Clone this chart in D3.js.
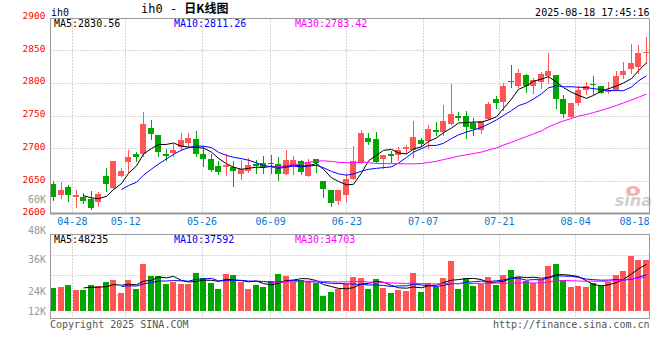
<!DOCTYPE html>
<html>
<head>
<meta charset="utf-8">
<script src="https://cdn.jsdelivr.net/npm/d3@7/dist/d3.min.js"></script>
<style>
  body { margin: 0; background: #fff; }
  svg { display: block; }
  text { font-family: "DejaVu Sans Mono", monospace; font-size: 10px; }
</style>
</head>
<body>
<svg id="chart" width="660" height="360"></svg>
<script>
'use strict';

// trading days, 2025-04-23 .. 2025-08-18
const dates = [
  '04-23', '04-24', '04-25', '04-28', '04-29', '04-30',
  '05-06', '05-07', '05-08', '05-09', '05-12', '05-13', '05-14', '05-15', '05-16',
  '05-19', '05-20', '05-21', '05-22', '05-23', '05-26', '05-27', '05-28', '05-29', '05-30',
  '06-03', '06-04', '06-05', '06-06', '06-09', '06-10', '06-11', '06-12', '06-13',
  '06-16', '06-17', '06-18', '06-19', '06-20', '06-23', '06-24', '06-25', '06-26', '06-27', '06-30',
  '07-01', '07-02', '07-03', '07-04', '07-07', '07-08', '07-09', '07-10', '07-11',
  '07-14', '07-15', '07-16', '07-17', '07-18', '07-21', '07-22', '07-23', '07-24', '07-25',
  '07-28', '07-29', '07-30', '07-31', '08-01', '08-04', '08-05', '08-06', '08-07', '08-08',
  '08-11', '08-12', '08-13', '08-14', '08-15', '08-18'
];

const open = [
  2645, 2629, 2641, 2625, 2626, 2622, 2618, 2658, 2640, 2658,
  2679, 2691, 2691, 2731, 2720, 2691, 2693, 2702, 2708, 2714,
  2691, 2684, 2673, 2672, 2672, 2661, 2666, 2676, 2677, 2677,
  2676, 2661, 2674, 2680, 2657, 2683, 2650, 2636, 2619, 2628,
  2653, 2677, 2716, 2714, 2683, 2691, 2690, 2699, 2698, 2713,
  2711, 2728, 2725, 2737, 2750, 2750, 2738, 2728, 2745, 2775,
  2771, 2803, 2796, 2812, 2795, 2801, 2811, 2812, 2775, 2748,
  2770, 2789, 2799, 2795, 2787, 2790, 2812, 2821, 2825, 2847
];
const high = [
  2650, 2649, 2644, 2636, 2631, 2635, 2633, 2670, 2681, 2670,
  2697, 2694, 2755, 2743, 2720, 2699, 2706, 2724, 2724, 2727,
  2704, 2692, 2680, 2692, 2680, 2682, 2685, 2682, 2689, 2690,
  2687, 2697, 2689, 2682, 2684, 2683, 2650, 2636, 2636, 2662,
  2704, 2728, 2724, 2725, 2690, 2696, 2702, 2705, 2742, 2716,
  2735, 2740, 2767, 2799, 2756, 2757, 2746, 2742, 2771, 2780,
  2800, 2827, 2822, 2814, 2808, 2817, 2846, 2812, 2781, 2770,
  2795, 2802, 2810, 2795, 2802, 2819, 2832, 2860, 2858, 2870
];
const low = [
  2621, 2624, 2620, 2611, 2616, 2607, 2612, 2634, 2640, 2657,
  2664, 2681, 2688, 2715, 2688, 2682, 2689, 2698, 2703, 2689,
  2673, 2666, 2661, 2659, 2642, 2653, 2664, 2662, 2663, 2663,
  2652, 2661, 2661, 2661, 2657, 2664, 2626, 2612, 2615, 2620,
  2653, 2677, 2707, 2679, 2670, 2679, 2682, 2693, 2687, 2703,
  2700, 2721, 2721, 2737, 2743, 2716, 2721, 2724, 2745, 2761,
  2759, 2794, 2794, 2786, 2785, 2792, 2800, 2762, 2748, 2748,
  2766, 2783, 2783, 2784, 2784, 2790, 2808, 2815, 2815, 2831
];
const close = [
  2626, 2636, 2628, 2629, 2619, 2609, 2630, 2646, 2680, 2666,
  2687, 2687, 2737, 2722, 2695, 2689, 2698, 2712, 2716, 2692,
  2684, 2667, 2664, 2675, 2666, 2668, 2674, 2673, 2672, 2676,
  2660, 2682, 2682, 2664, 2679, 2677, 2638, 2617, 2636, 2653,
  2681, 2724, 2710, 2679, 2690, 2689, 2697, 2702, 2717, 2707,
  2729, 2725, 2742, 2752, 2746, 2732, 2729, 2742, 2768, 2770,
  2796, 2801, 2816, 2795, 2805, 2813, 2819, 2775, 2752, 2770,
  2789, 2796, 2798, 2785, 2788, 2810, 2819, 2831, 2846, 2848
];
const volume = [
  24150, 25190, 26910, 21740, 21740, 26910, 25880, 30020, 32090, 18630,
  32090, 22770, 48650, 36230, 36230, 27950, 30020, 27950, 27950, 39330,
  34500, 28980, 22770, 38300, 37260, 30020, 22770, 26910, 24840, 31050,
  38300, 36230, 30020, 32090, 30020, 28980, 15530, 19670, 22770, 27950,
  35190, 34160, 22770, 33120, 23810, 18630, 21740, 20700, 39330, 19670,
  28980, 24840, 34160, 51750, 22770, 34160, 25880, 27950, 35190, 26910,
  37260, 42440, 35190, 31050, 28980, 32090, 46580, 48650, 32090, 24840,
  25880, 24840, 28980, 25880, 30020, 37260, 41400, 56930, 52790, 52790
];

const dateTicks = ['04-28', '05-12', '05-26', '06-09', '06-23', '07-07', '07-21', '08-04', '08-18'];
const priceTicks = [2600, 2650, 2700, 2750, 2800, 2850, 2900];
const volTickLabels = ['48K', '36K', '24K', '12K'];

const priceLegend = ['MA5:2830.56', 'MA10:2811.26', 'MA30:2783.42'];
const volLegend = ['MA5:48235', 'MA10:37592', 'MA30:34703'];

const UP = '#ff5555', DOWN = '#00a600';
const MA_COLORS = ['#000', '#0000ff', '#ff00ff'];
const GRID = '#aaa', FRAME = '#999';

const M = { left: 50.5, right: 649.5, top: 18.5, bottom: 213.5, vTop: 234.5, vBottom: 318.5, vBase: 311 };

const svg = d3.select('#chart');

const x = d3.scaleBand().domain(dates).range([49.25, 649.25]);
const gridX = d3.scaleLinear().domain([0, dates.length]).range([49, 659]);
const y = d3.scaleLinear().domain([2600, 2900]).range([213.7, 17.6]);
const vy = d3.scaleLinear().domain([0, 79400]).range([M.vBase, 234.3]);
const vGrid = d3.scaleLinear().domain([0, 4]).range([235, 315]);

const cx = i => Math.round(x(dates[i]) + x.bandwidth() / 2);

function movingAverage(arr, n) {
  return arr.map((_, i) => i < n - 1 ? null : d3.mean(arr.slice(i - n + 1, i + 1)));
}

// ---- grid ----
const grid = svg.append('g')
    .attr('stroke', GRID)
    .attr('stroke-dasharray', '1,2');

grid.selectAll('.hp')
  .data(priceTicks.slice(1, -1))
  .join('line')
    .attr('x1', M.left).attr('x2', M.right)
    .attr('y1', d => Math.round(y(d)) + 0.5)
    .attr('y2', d => Math.round(y(d)) + 0.5);

grid.selectAll('.hv')
  .data([1, 2, 3])
  .join('line')
    .attr('x1', M.left).attr('x2', M.right)
    .attr('y1', d => Math.round(vGrid(d)) + 0.5)
    .attr('y2', d => Math.round(vGrid(d)) + 0.5);

const tickIdx = dateTicks.map(d => dates.indexOf(d)).filter(i => gridX(i) < M.right);
[[M.top, M.bottom], [M.vTop, M.vBottom]].forEach(([a, b]) => {
  grid.append('g').selectAll('line')
    .data(tickIdx)
    .join('line')
      .attr('x1', i => Math.round(gridX(i)) + 0.5)
      .attr('x2', i => Math.round(gridX(i)) + 0.5)
      .attr('y1', a).attr('y2', b);
});

// ---- watermark ----
const wm = svg.append('g');
wm.append('ellipse').attr('cx', 633).attr('cy', 191).attr('rx', 7).attr('ry', 5)
    .attr('fill', '#f3b0b0');
wm.append('circle').attr('cx', 633).attr('cy', 191).attr('r', 2.5).attr('fill', '#fff');
wm.append('text')
    .attr('x', 652).attr('y', 206)
    .attr('text-anchor', 'end')
    .attr('fill', '#cfcfcf')
    .style('font-family', 'DejaVu Sans')
    .style('font-size', '16px')
    .style('font-style', 'italic')
    .style('font-weight', 'bold')
    .text('sina');

// ---- candles ----
const candles = svg.append('g')
  .selectAll('g')
  .data(dates.map((d, i) => i))
  .join('g')
    .attr('fill', i => close[i] >= open[i] ? UP : DOWN)
    .attr('stroke', i => close[i] >= open[i] ? UP : DOWN);

candles.append('line')
    .attr('x1', i => cx(i) + 0.5).attr('x2', i => cx(i) + 0.5)
    .attr('y1', i => Math.round(y(high[i])))
    .attr('y2', i => Math.round(y(low[i])) + 1);

candles.append('rect')
    .attr('stroke', 'none')
    .attr('x', i => cx(i) - 3)
    .attr('width', 6)
    .attr('y', i => Math.round(y(Math.max(open[i], close[i]))))
    .attr('height', i => Math.max(1, Math.round(y(Math.min(open[i], close[i]))) - Math.round(y(Math.max(open[i], close[i])))));

// ---- volume bars ----
svg.append('g')
  .selectAll('rect')
  .data(volume)
  .join('rect')
    .attr('fill', (v, i) => close[i] >= open[i] ? UP : DOWN)
    .attr('x', (v, i) => cx(i) - 3)
    .attr('width', 6)
    .attr('y', v => Math.round(vy(v)))
    .attr('height', v => M.vBase - Math.round(vy(v)));

// ---- moving averages ----
const maLine = scale => d3.line()
    .defined(d => d.v !== null)
    .x(d => cx(d.i) + 0.5)
    .y(d => scale(d.v));

[5, 10, 30].forEach((n, k) => {
  const pm = movingAverage(close, n).map((v, i) => ({ i, v }));
  svg.append('path')
      .attr('d', maLine(y)(pm))
      .attr('fill', 'none')
      .attr('stroke', MA_COLORS[k])
      .attr('stroke-width', 1);
  const vm = movingAverage(volume, n).map((v, i) => ({ i, v }));
  svg.append('path')
      .attr('d', maLine(vy)(vm))
      .attr('fill', 'none')
      .attr('stroke', MA_COLORS[k])
      .attr('stroke-width', 1);
});

// ---- frames ----
const frame = svg.append('g').attr('fill', 'none').attr('stroke', FRAME);
frame.append('path')
    .attr('d', `M${M.left},${M.bottom}V${M.top}H${M.right}V${M.bottom}`);
frame.append('line')
    .attr('x1', M.left - 0.5).attr('x2', M.right + 0.5)
    .attr('y1', M.bottom).attr('y2', M.bottom)
    .attr('stroke-width', 2);
frame.append('rect')
    .attr('x', M.left).attr('y', M.vTop)
    .attr('width', M.right - M.left).attr('height', M.vBottom - M.vTop);

// ---- axes ----
svg.append('g')
    .attr('transform', `translate(${M.left},0)`)
    .call(d3.axisLeft(y).tickValues(priceTicks).tickSize(0).tickPadding(5).tickFormat(d3.format('d')))
    .call(g => g.select('.domain').remove())
    .attr('font-family', null).attr('font-size', null)
    .selectAll('text')
      .attr('fill', '#ff0000')
      .attr('dy', 1)
      .style('font-size', '9.5px');

const xAxis = svg.append('g')
    .attr('transform', 'translate(0,218)')
    .call(d3.axisBottom(gridX)
      .tickValues(dateTicks.map(d => dates.indexOf(d)))
      .tickSize(0).tickPadding(0)
      .tickFormat(i => dates[i]))
    .call(g => g.select('.domain').remove())
    .attr('font-family', null).attr('font-size', null);
xAxis.selectAll('text').attr('fill', '#0a78cc');
xAxis.selectAll('.tick')
  .filter(i => gridX(i) + 15 > M.right)
  .select('text')
    .attr('text-anchor', 'end')
    .attr('x', i => M.right - gridX(i) - 0.5);

// volume labels (Sina places them against frame / grid rows)
const volLabelRows = [[0, -0.3], [1, 8.7], [3, 0], [4, 0]];
svg.append('g')
  .selectAll('text')
  .data(volTickLabels)
  .join('text')
    .attr('x', 46).attr('text-anchor', 'end')
    .attr('y', (d, k) => vGrid(volLabelRows[k][0]) - 0.5 + volLabelRows[k][1])
    .attr('fill', '#999')
    .text(d => d);

svg.append('text')
    .attr('x', 46).attr('y', 203).attr('text-anchor', 'end')
    .attr('fill', '#999').text('60K');

// ---- legends ----
const legendX = [54, 174, 295];
svg.append('g').selectAll('text')
  .data(priceLegend)
  .join('text')
    .attr('x', (d, k) => legendX[k]).attr('y', 27)
    .attr('fill', (d, k) => MA_COLORS[k])
    .text(d => d);
svg.append('g').selectAll('text')
  .data(volLegend)
  .join('text')
    .attr('x', (d, k) => legendX[k]).attr('y', 242.5)
    .attr('fill', (d, k) => MA_COLORS[k])
    .text(d => d);

// ---- header / footer ----
svg.append('text').attr('x', 51).attr('y', 16).attr('fill', '#000').text('ih0');

const title = svg.append('text').attr('x', 141).attr('y', 13).attr('fill', '#000');
title.append('tspan').style('font-size', '12px').text('ih0 - ');
title.append('tspan')
    .style('font-family', '"Noto Sans CJK SC"')
    .style('font-size', '12px')
    .style('font-weight', 'bold')
    .text('日K线图');

svg.append('text')
    .attr('x', 649.5).attr('y', 15.5).attr('text-anchor', 'end')
    .attr('fill', '#000')
    .text('2025-08-18 17:45:16');

svg.append('text').attr('x', 50).attr('y', 327.5).attr('fill', '#555')
    .text('Copyright 2025 SINA.COM');
svg.append('text').attr('x', 649.5).attr('y', 327.5).attr('text-anchor', 'end').attr('fill', '#555')
    .text('http://finance.sina.com.cn');
</script>
</body>
</html>
